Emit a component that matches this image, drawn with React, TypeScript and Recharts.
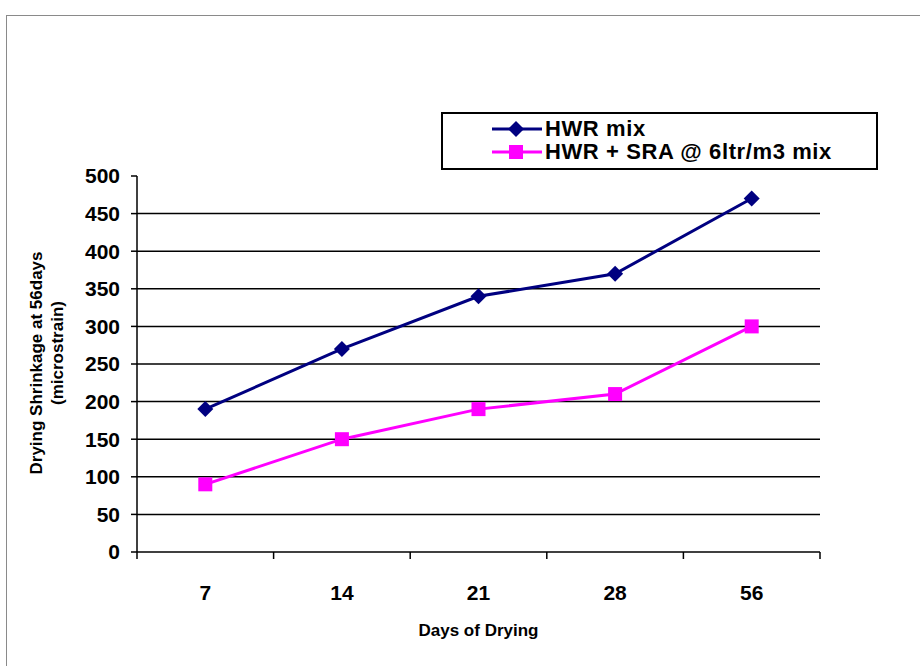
import React from "react";
import { ComposedChart, Line, XAxis, YAxis, ReferenceLine } from "recharts";

const days = ["7", "14", "21", "28", "56"];
const hwrMix = [190, 270, 340, 370, 470];
const hwrSra = [90, 150, 190, 210, 300];
const yTicks = [0, 50, 100, 150, 200, 250, 300, 350, 400, 450, 500];
const gridTicks = [50, 100, 150, 200, 250, 300, 350, 400, 450];

const NAVY = "#000080";
const MAGENTA = "#FF00FF";
const FONT = '"Liberation Sans", Arial, sans-serif';

// half of one category band: points sit in the middle of their band
const HALF_BAND = 68.3;

const chartData = days.map((d, i) => ({
  day: d,
  hwr: hwrMix[i],
  sra: hwrSra[i],
}));

const Diamond: React.FC<any> = ({ cx, cy }) => {
  if (cx == null || cy == null) return null;
  const r = 8;
  return (
    <polygon
      points={`${cx},${cy - r} ${cx + r},${cy} ${cx},${cy + r} ${cx - r},${cy}`}
      fill={NAVY}
    />
  );
};

const Square: React.FC<any> = ({ cx, cy }) => {
  if (cx == null || cy == null) return null;
  const s = 14;
  return <rect x={cx - s / 2} y={cy - s / 2} width={s} height={s} fill={MAGENTA} />;
};

// category label plus tick marks on the band edges
const DayTick: React.FC<any> = ({ x, y, payload, index, visibleTicksCount }) => {
  const last = index === visibleTicksCount - 1;
  return (
    <g>
      <line x1={x - HALF_BAND} y1={y} x2={x - HALF_BAND} y2={y + 7} stroke="#000" strokeWidth={1.5} />
      {last && (
        <line x1={x + HALF_BAND} y1={y} x2={x + HALF_BAND} y2={y + 7} stroke="#000" strokeWidth={1.5} />
      )}
      <text
        x={x}
        y={y}
        dy={48}
        textAnchor="middle"
        fontFamily={FONT}
        fontWeight="bold"
        fontSize={21}
        fill="#000"
      >
        {payload.value}
      </text>
    </g>
  );
};

const XTitle: React.FC<any> = ({ viewBox }) => (
  <text
    x={viewBox.x + viewBox.width / 2}
    y={viewBox.y + 84}
    textAnchor="middle"
    fontFamily={FONT}
    fontWeight="bold"
    fontSize={17}
    fill="#000"
  >
    Days of Drying
  </text>
);

const YTitle: React.FC<any> = ({ viewBox }) => {
  const cy = viewBox.y + viewBox.height / 2;
  const c1 = cy - 1;
  const c2 = cy - 11;
  return (
    <g fontFamily={FONT} fontWeight="bold" fontSize={17} fill="#000">
      <text x={42} y={c1} textAnchor="middle" transform={`rotate(-90 42 ${c1})`}>
        Drying Shrinkage at 56days
      </text>
      <text x={63} y={c2} textAnchor="middle" transform={`rotate(-90 63 ${c2})`}>
        (microstrain)
      </text>
    </g>
  );
};

const LegendBox: React.FC = () => {
  const rows = [
    { name: "HWR mix", color: NAVY, marker: "diamond" },
    { name: "HWR + SRA @ 6ltr/m3 mix", color: MAGENTA, marker: "square" },
  ];
  return (
    <div
      style={{
        position: "absolute",
        left: 441,
        top: 112,
        width: 437,
        height: 58,
        border: "2px solid #000",
        background: "#fff",
        boxSizing: "border-box",
        paddingTop: 3,
        fontFamily: FONT,
        fontWeight: "bold",
        fontSize: 22,
        letterSpacing: 0.6,
        lineHeight: "23px",
      }}
    >
      {rows.map((r) => (
        <div key={r.name} style={{ display: "flex", alignItems: "center", height: 23 }}>
          <svg width={102} height={20} style={{ flex: "none" }}>
            <line x1={49} y1={10} x2={99} y2={10} stroke={r.color} strokeWidth={3} />
            {r.marker === "diamond" ? (
              <polygon points="73,2 81,10 73,18 65,10" fill={r.color} />
            ) : (
              <rect x={66} y={3} width={14} height={14} fill={r.color} />
            )}
          </svg>
          <span style={{ color: "#000", whiteSpace: "nowrap" }}>{r.name}</span>
        </div>
      ))}
    </div>
  );
};

export default function App() {
  return (
    <div
      style={{
        position: "absolute",
        left: 0,
        top: 0,
        width: 920,
        height: 666,
        overflow: "hidden",
        background: "#fff",
      }}
    >
      <div
        style={{
          position: "absolute",
          left: 6,
          top: 15,
          width: 940,
          height: 700,
          border: "1px solid #8a8a8a",
        }}
      />
      <div style={{ position: "absolute", left: 0, top: 0 }}>
        <ComposedChart
          width={920}
          height={666}
          data={chartData}
          margin={{ top: 176, right: 100, bottom: 113, left: 77 }}
        >
          <XAxis
            dataKey="day"
            height={1}
            padding={{ left: HALF_BAND, right: HALF_BAND }}
            axisLine={{ stroke: "#000", strokeWidth: 1.5 }}
            tickLine={false}
            tickSize={0}
            tickMargin={0}
            tick={<DayTick />}
            interval={0}
            label={<XTitle />}
          />
          <YAxis
            domain={[0, 500]}
            ticks={yTicks}
            width={60}
            tickSize={6}
            tickMargin={11}
            axisLine={{ stroke: "#000", strokeWidth: 1.5 }}
            tickLine={{ stroke: "#000", strokeWidth: 1.5 }}
            tick={{ fontFamily: FONT, fontWeight: "bold", fontSize: 21, fill: "#000" }}
            label={<YTitle />}
          />
          {gridTicks.map((t) => (
            <ReferenceLine key={`grid-${t}`} y={t} stroke="#000" strokeWidth={1.5} />
          ))}
          <Line
            dataKey="hwr"
            name="HWR mix"
            stroke={NAVY}
            strokeWidth={3}
            dot={<Diamond />}
            activeDot={false}
            isAnimationActive={false}
          />
          <Line
            dataKey="sra"
            name="HWR + SRA @ 6ltr/m3 mix"
            stroke={MAGENTA}
            strokeWidth={3}
            dot={<Square />}
            activeDot={false}
            isAnimationActive={false}
          />
        </ComposedChart>
      </div>
      <LegendBox />
    </div>
  );
}
